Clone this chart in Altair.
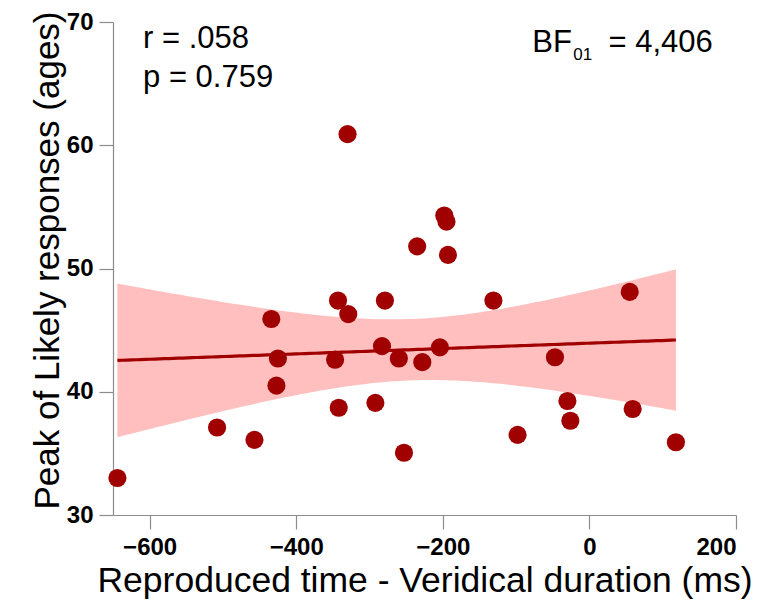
import altair as alt
import numpy as np
import pandas as pd

# scatter data
xs = [-644, -508, -457, -434, -425, -427, -343, -347, -342, -330, -329, -292,
      -283, -279, -260, -253, -235, -228, -204, -198, -195, -193, -131, -98,
      -47, -30, -26, 55, 59, 118]
ys = [33.0, 37.1, 36.1, 45.9, 42.7, 40.5, 47.4, 42.6, 38.7, 60.9, 46.3, 39.1,
      43.7, 47.4, 42.7, 35.05, 51.8, 42.4, 43.6, 54.3, 53.8, 51.1, 47.4, 36.5,
      42.8, 39.25, 37.65, 48.1, 38.6, 35.9]

# annotations
ann_text = ["r = .058", "p = 0.759", "BF", "01", "= 4,406"]
ann_x = [-609, -609, -78, -22, 26]
ann_y = [67.9, 64.7, 67.55, 66.95, 67.55]
ann_size = [31, 31, 31, 17, 31]

pts = pd.DataFrame({"x": xs, "y": ys})

# OLS fit and 95% CI of the mean
x = np.array(xs, float)
y = np.array(ys, float)
n = len(x)
b1, b0 = np.polyfit(x, y, 1)
resid = y - (b0 + b1 * x)
s = np.sqrt((resid ** 2).sum() / (n - 2))
sxx = ((x - x.mean()) ** 2).sum()
tval = 2.048
gx = np.linspace(x.min(), x.max(), 120)
gy = b0 + b1 * gx
hw = tval * s * np.sqrt(1.0 / n + (gx - x.mean()) ** 2 / sxx)
fit = pd.DataFrame({"x": gx, "y": gy, "lo": gy - hw, "hi": gy + hw})

ann = pd.DataFrame({"t": ann_text, "x": ann_x, "y": ann_y, "fs": ann_size})

FONT = "Liberation Sans"
RED = "#a00000"

xscale = alt.Scale(domain=[-650, 200], nice=False, zero=False)
yscale = alt.Scale(domain=[30, 70], nice=False, zero=False)

xaxis = alt.Axis(values=[-600, -400, -200, 0, 200], title="Reproduced time - Veridical duration (ms)",
                 grid=False)
yaxis = alt.Axis(values=[30, 40, 50, 60, 70], title="Peak of Likely responses (ages)", grid=False,
                 titleY=238)

band = alt.Chart(fit).mark_area(color="#ffbfbf", opacity=1).encode(
    x=alt.X("x:Q", scale=xscale, axis=xaxis),
    y=alt.Y("lo:Q", scale=yscale, axis=yaxis),
    y2="hi:Q",
)
line = alt.Chart(fit).mark_line(color=RED, strokeWidth=3.2).encode(
    x=alt.X("x:Q", scale=xscale),
    y=alt.Y("y:Q", scale=yscale),
)
points = alt.Chart(pts).mark_circle(color=RED, size=330, opacity=1).encode(
    x=alt.X("x:Q", scale=xscale),
    y=alt.Y("y:Q", scale=yscale),
)
texts = alt.Chart(ann).mark_text(align="left", baseline="alphabetic", font=FONT, color="black").encode(
    x=alt.X("x:Q", scale=xscale),
    y=alt.Y("y:Q", scale=yscale),
    text="t:N",
    size=alt.Size("fs:Q", scale=None, legend=None),
)

chart = alt.layer(band, line, points, texts).properties(
    width=623, height=493,
    autosize=alt.AutoSizeParams(type="none"),
    padding={"left": 105, "top": 14, "right": 18, "bottom": 92},
).configure_view(stroke=None).configure_axis(
    domainColor="#8c8c8c", tickColor="#8c8c8c", domainWidth=1.2, tickWidth=1.2,
    tickSize=14, labelFont=FONT, labelFontSize=24, labelFontWeight="bold", labelColor="black",
    titleFont=FONT, titleFontWeight="normal", titleColor="black",
).configure_axisX(labelPadding=6, titlePadding=4, titleFontSize=35.5).configure_axisY(
    labelPadding=6, titlePadding=1, titleFontSize=35)

chart.save("out.html", embed_options={"renderer": "svg", "actions": False})
